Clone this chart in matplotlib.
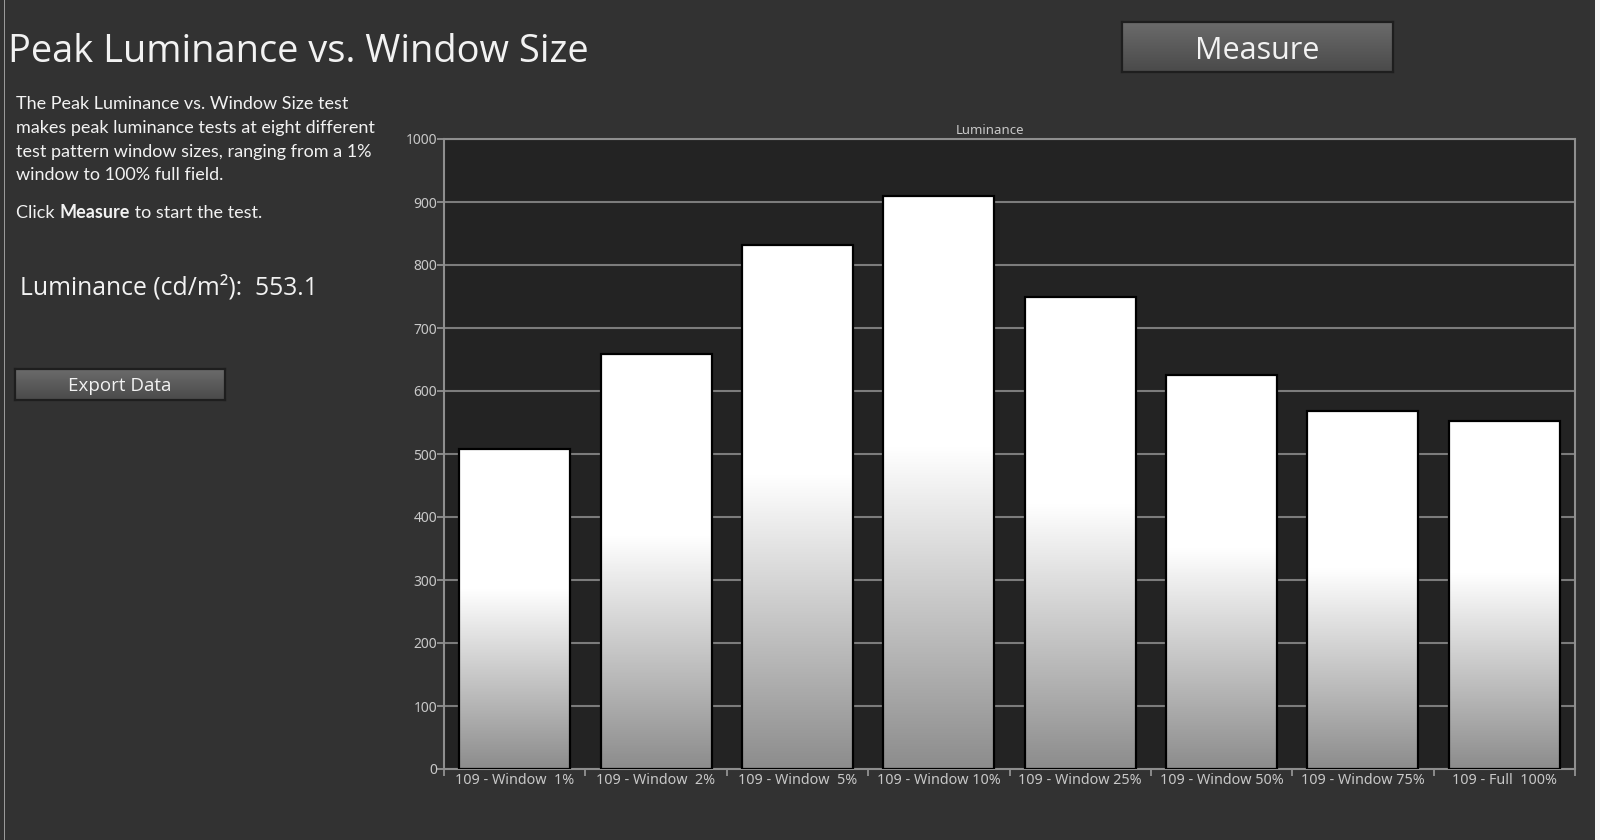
import matplotlib
matplotlib.use("Agg")
import matplotlib.pyplot as plt
import numpy as np
from matplotlib.patches import Rectangle

W, H = 1600, 840

categories = [
    "109 - Window  1%",
    "109 - Window  2%",
    "109 - Window  5%",
    "109 - Window 10%",
    "109 - Window 25%",
    "109 - Window 50%",
    "109 - Window 75%",
    "109 - Full  100%",
]
luminance = [508, 659, 832, 910, 750, 625, 568, 553.1]
y_ticks = [0, 100, 200, 300, 400, 500, 600, 700, 800, 900, 1000]
current_reading = 553.1

description = [
    "The Peak Luminance vs. Window Size test",
    "makes peak luminance tests at eight different",
    "test pattern window sizes, ranging from a 1%",
    "window to 100% full field.",
]

BG = "#323232"
AX_BG = "#232323"
GRID = "#7c7c7c"
TEXT = "#f2f2f2"
TICK_TEXT = "#c8c8c8"
BODY_SIZE = 13


def fx(x):
    return x / W


def fy(y):
    return 1 - y / H


def bar_gradient(n=256, white_at=0.56, low=0.55):
    f = np.linspace(0, 1, n)
    v = np.clip(low + (1 - low) * f / white_at, 0, 1)
    rgb = np.stack([v, v, v], axis=1)
    return rgb[:, None, :]


def add_button(fig, x0, y0, x1, y1, label, size, text_y=0.5):
    bax = fig.add_axes([fx(x0), fy(y1), fx(x1 - x0), (y1 - y0) / H])
    grad = np.linspace(0.42, 0.29, 64)
    img = np.stack([grad, grad, grad], axis=1)[:, None, :]
    bax.imshow(img, aspect="auto", extent=[0, 1, 0, 1], origin="upper")
    bax.set_xlim(0, 1)
    bax.set_ylim(0, 1)
    bax.set_xticks([])
    bax.set_yticks([])
    for spine in bax.spines.values():
        spine.set_color("#1e1e1e")
        spine.set_linewidth(1.6)
    bax.text(0.5, text_y, label, ha="center", va="center", color=TEXT,
             fontsize=size, family="Open Sans", transform=bax.transAxes)


fig = plt.figure(figsize=(W / 100, H / 100), dpi=100, facecolor=BG)

# screenshot edges
fig.patches.append(Rectangle((fx(1595), 0), fx(5), 1, transform=fig.transFigure,
                             facecolor="#f4f4f4", edgecolor="none"))
fig.patches.append(Rectangle((fx(3.5), 0), fx(1.5), 1, transform=fig.transFigure,
                             facecolor="#9a9a9a", edgecolor="none"))

fig.text(fx(8), fy(52), "Peak Luminance vs. Window Size", color=TEXT,
         fontsize=27.4, family="Open Sans", va="center", ha="left")

for i, line in enumerate(description):
    fig.text(fx(16), fy(104 + i * 23.8), line, color=TEXT, fontsize=BODY_SIZE,
             family="Lato", va="center", ha="left")

t1 = fig.text(fx(16), fy(213), "Click ", color=TEXT, fontsize=BODY_SIZE,
              family="Lato", va="center", ha="left")
fig.canvas.draw()
r = fig.canvas.get_renderer()
bb = t1.get_window_extent(r)
t2 = fig.text(bb.x1 / W, fy(213), "Measure", color=TEXT, fontsize=BODY_SIZE,
              family="Lato", weight="bold", va="center", ha="left")
bb2 = t2.get_window_extent(r)
fig.text(bb2.x1 / W, fy(213), " to start the test.", color=TEXT, fontsize=BODY_SIZE,
         family="Lato", va="center", ha="left")

fig.text(fx(20), fy(288), f"Luminance (cd/m\u00b2):  {current_reading:.1f}", color=TEXT,
         fontsize=17.8, family="Open Sans", va="center", ha="left")

add_button(fig, 15, 369, 225, 400, "Export Data", 13.5, text_y=0.45)
add_button(fig, 1122, 22, 1393, 72, "Measure", 22, text_y=0.42)

ax = fig.add_axes([fx(444), fy(769), fx(1575 - 444), (769 - 139) / H])
ax.set_facecolor(AX_BG)

x = np.arange(len(categories))
bars = ax.bar(x, luminance, width=0.785, color="none", edgecolor="black",
              linewidth=1.6, zorder=3)
grad = bar_gradient()
for rect in bars:
    x0 = rect.get_x()
    im = ax.imshow(grad, extent=[x0, x0 + rect.get_width(), 0, rect.get_height()],
                   origin="lower", aspect="auto", zorder=2)
    im.set_clip_path(rect)

ax.set_xlim(-0.5, len(categories) - 0.5)
ax.set_ylim(0, 1000)
ax.set_yticks(y_ticks)
ax.set_yticklabels([str(v) for v in y_ticks])
ax.yaxis.grid(True, color=GRID, linewidth=1.5, zorder=1)
ax.set_axisbelow(True)

ax.set_xticks(x)
ax.set_xticklabels(categories)
ax.set_xticks(np.arange(-0.5, len(categories)), minor=True)
ax.tick_params(axis="x", which="major", length=0, pad=3, labelsize=10.3, labelcolor=TICK_TEXT)
ax.tick_params(axis="x", which="minor", length=5, color="#9a9a9a", width=1.2)
ax.tick_params(axis="y", length=5, color="#9a9a9a", width=1.2, pad=0,
               labelsize=10, labelcolor=TICK_TEXT)
for lbl in ax.get_xticklabels() + ax.get_yticklabels():
    lbl.set_family("Noto Sans")

for spine in ax.spines.values():
    spine.set_color("#8e8e8e")
    spine.set_linewidth(1.5)

fig.text(fx(990), fy(130), "Luminance", color=TICK_TEXT, fontsize=9.5,
         family="Noto Sans", ha="center", va="center")

fig.savefig("out.png", dpi=100, facecolor=BG)
